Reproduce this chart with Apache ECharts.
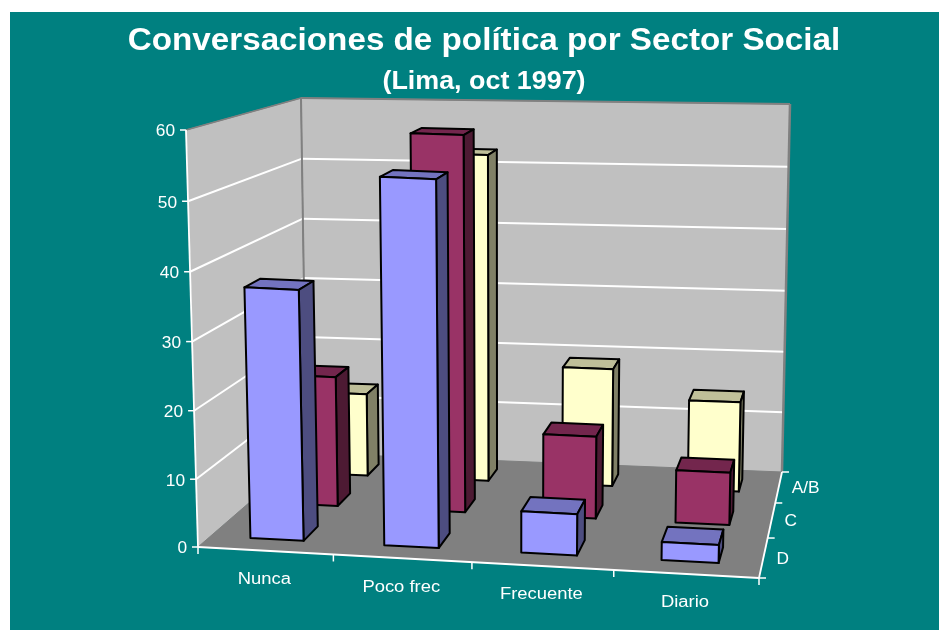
<!DOCTYPE html>
<html><head><meta charset="utf-8">
<style>html,body{margin:0;padding:0;background:#fff}#c{width:939px;height:630px}</style>
<script src="https://cdn.jsdelivr.net/npm/echarts@6/dist/echarts.min.js"></script>
</head><body><div id="c"></div>
<script>
const titleText = 'Conversaciones de política por Sector Social';
const subtitleText = '(Lima, oct 1997)';
const categories = ['Nunca', 'Poco frec', 'Frecuente', 'Diario'];
const depthLabels = ['D', 'C', 'A/B'];           // front to back
const valueTicks = [0, 10, 20, 30, 40, 50, 60];
const seriesD  = [37.1, 53.9, 6.15, 2.7];
const seriesC  = [20.3, 58, 12.8, 8.15];
const seriesAB = [13.5, 52.7, 19.1, 14.5];
const depthValues = [seriesD, seriesC, seriesAB];
const depthColors = [
  ['#9999FF', '#7373BF', '#4D4D80'],
  ['#993366', '#73264D', '#4D1A33'],
  ['#FFFFCC', '#BFBF99', '#808066']
];

// camera: picture positions of the corners of the plot box, and foreshortening
const A=[198,547], B=[759,578], C=[782,472], D=[306.5,453], E=[186,130], H=[768,157], G=[790,104], F=[301,98];
const warp=(u,r)=>u/(u+(1-u)*r);
const RS=1.048, RT=0.826, RZ=1.03;
const mix=(p,q,k)=>[p[0]+(q[0]-p[0])*k,p[1]+(q[1]-p[1])*k];
function proj(s,t,z){
  const a=warp(s,RS), b=warp(t,RT), c=warp(z,RZ);
  const low=mix(mix(A,B,a),mix(D,C,a),b);
  const high=mix(mix(E,H,a),mix(F,G,a),b);
  return mix(low,high,c);
}
const BAR_LO=0.3, BAR_HI=0.7;
const white='#FFFFFF', wallEdge='#808080';
const labelFont='Liberation Sans';

function line(p,q,stroke,w){return {type:'line',shape:{x1:p[0],y1:p[1],x2:q[0],y2:q[1]},style:{stroke:stroke,lineWidth:w}};}
function poly(pts,fill,stroke,w){return {type:'polygon',shape:{points:pts},style:{fill:fill,stroke:stroke||null,lineWidth:w||0,lineJoin:'round'}};}
function label(text,x,y,align,size,scale){return {type:'text',x:x,y:y,scaleX:scale||1,style:{text:text,fill:white,fontFamily:labelFont,fontSize:size,align:align,verticalAlign:'middle'}};}

function renderFrame(params,api){
  const rect=params.coordSys, yMax=valueTicks[valueTicks.length-1];
  const ch=[];
  ch.push(poly([proj(0,0,0),proj(1,0,0),proj(1,1,0),proj(0,1,0)],'#808080',wallEdge,1));
  ch.push(poly([proj(0,0,0),proj(0,1,0),proj(0,1,1),proj(0,0,1)],'#C0C0C0',wallEdge,1));
  ch.push(poly([proj(0,1,0),proj(1,1,0),proj(1,1,1),proj(0,1,1)],'#C0C0C0',wallEdge,1));
  valueTicks.forEach(v=>{
    const z=(rect.y+rect.height-api.coord([0,v])[1])/rect.height;
    if(v>0&&v<yMax){
      ch.push(line(proj(0,0,z),proj(0,1,z),white,2));
      ch.push(line(proj(0,1,z),proj(1,1,z),white,2));
    }
    const p=proj(0,0,z);
    ch.push(line(p,[p[0]-6,p[1]],white,1.5));
    ch.push(label(String(v),p[0]-11,p[1]+2,'right',16,1.08));
  });
  ch.push(line(proj(0,1,1),proj(0,0,1),wallEdge,1.5));
  ch.push(line(proj(0,1,1),proj(1,1,1),wallEdge,2));
  ch.push(line(proj(0,1,0),proj(0,1,1),wallEdge,2));
  ch.push(line(proj(1,1,0),proj(1,1,1),wallEdge,2.5));
  ch.push(line(proj(0,0,0),proj(0,0,1),white,1.8));
  ch.push(line(proj(0,0,0),proj(1,0,0),white,1.8));
  ch.push(line(proj(1,0,0),proj(1,1,0),white,1.8));
  for(let i=0;i<=categories.length;i++){
    const p=proj(i/categories.length,0,0);
    ch.push(line(p,[p[0],p[1]+7],white,1.5));
  }
  categories.forEach((c,i)=>{
    const p=proj((i+.5)/categories.length,0,0);
    ch.push(label(c,p[0]-1,p[1]+29,'center',16,1.15));
  });
  for(let i=0;i<=depthLabels.length;i++){
    const p=proj(1,i/depthLabels.length,0);
    ch.push(line(p,[p[0]+7,p[1]],white,1.5));
  }
  depthLabels.forEach((c,i)=>{
    const p=proj(1,(i+.5)/depthLabels.length,0);
    ch.push(label(c,p[0]+13,p[1]+2,'left',16,1.08));
  });
  return {type:'group',children:ch};
}

function renderBar(params,api){
  const rect=params.coordSys, n=categories.length, dn=depthLabels.length;
  const cat=api.value(0), val=api.value(1), dep=api.value(2);
  const top=api.coord([cat,val]);
  const s0=(top[0]-rect.x)/rect.width;            // band centre across the floor
  const half=(BAR_HI-BAR_LO)/2/n;
  const z=(rect.y+rect.height-top[1])/rect.height;
  const d0=(dep+BAR_LO)/dn, d1=(dep+BAR_HI)/dn, s1=s0-half, s2=s0+half;
  const col=depthColors[dep];
  const p=(s,t,h)=>proj(s,t,h);
  return {type:'group',children:[
    poly([p(s1,d0,z),p(s2,d0,z),p(s2,d1,z),p(s1,d1,z)],col[1],'#000',2),
    poly([p(s2,d0,0),p(s2,d1,0),p(s2,d1,z),p(s2,d0,z)],col[2],'#000',2),
    poly([p(s1,d0,0),p(s2,d0,0),p(s2,d0,z),p(s1,d0,z)],col[0],'#000',2)
  ]};
}

const barData=[];
for(let dep=depthLabels.length-1;dep>=0;dep--){
  categories.forEach((c,i)=>barData.push([i,depthValues[dep][i],dep]));
}

const chart=echarts.init(document.getElementById('c'),null,{renderer:'canvas'});
chart.setOption({
  animation:false,
  backgroundColor:'#FFFFFF',
  grid:{left:0,right:0,top:0,bottom:0},
  xAxis:{type:'category',data:categories,show:false},
  yAxis:{type:'value',min:0,max:60,interval:10,show:false},
  graphic:[
    {type:'rect',z:-10,shape:{x:10,y:12,width:929,height:618},style:{fill:'#008080'}},
    {type:'text',z:5,x:484,y:41,scaleX:1.038,style:{text:titleText,fill:white,fontFamily:labelFont,fontWeight:'bold',fontSize:32,align:'center',verticalAlign:'middle'}},
    {type:'text',z:5,x:484,y:82,scaleX:1.075,style:{text:subtitleText,fill:white,fontFamily:labelFont,fontWeight:'bold',fontSize:25,align:'center',verticalAlign:'middle'}}
  ],
  series:[
    {type:'custom',name:'frame',silent:true,renderItem:renderFrame,data:[[0,0,0]],clip:false,z:1},
    {type:'custom',name:'bars',silent:true,renderItem:renderBar,data:barData,clip:false,z:2,encode:{x:0,y:1}}
  ]
});
</script></body></html>
